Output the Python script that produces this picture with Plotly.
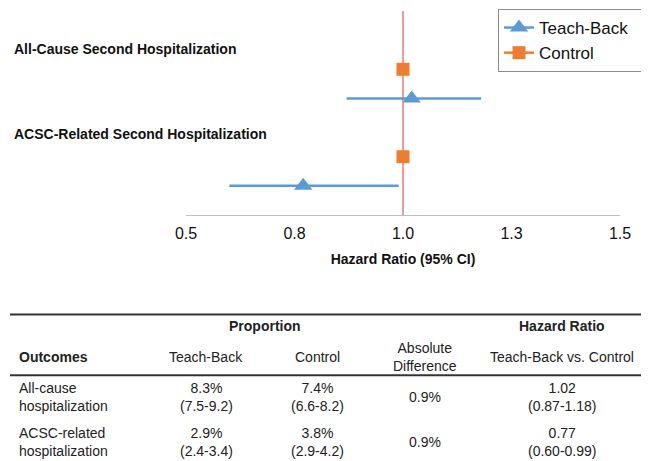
import plotly.graph_objects as go

# ---------------- data ----------------
outcome_labels = ["All-Cause Second Hospitalization", "ACSC-Related Second Hospitalization"]
teachback_hr = [1.02, 0.77]
teachback_lo = [0.87, 0.60]
teachback_hi = [1.18, 0.99]
control_hr = [1.00, 1.00]
series_names = ["Teach-Back", "Control"]

tick_vals = [0.5, 0.75, 1.0, 1.25, 1.5]
tick_text = ["0.5", "0.8", "1.0", "1.3", "1.5"]

table_outcomes = ["All-cause", "ACSC-related"]
tb_pct = ["8.3%", "2.9%"]
tb_ci = ["7.5-9.2", "2.4-3.4"]
ctl_pct = ["7.4%", "3.8%"]
ctl_ci = ["6.6-8.2", "2.9-4.2"]
abs_diff = ["0.9%", "0.9%"]
hr_val = ["1.02", "0.77"]
hr_ci = ["0.87-1.18", "0.60-0.99"]

# ---------------- layout helpers ----------------
W, H = 649, 461
L, R, T, B = 178, 612, 2, 207
FONT = "Arial, Liberation Sans, Helvetica, sans-serif"
BLUE = "#5B9BD5"
ORANGE = "#ED7D31"
PAD = "\u00a0\u00a0"


def pxx(x):
    return (x - L) / (R - L)


def pxy(y):
    return (B - y) / (B - T)


# row slots: each outcome gets a control (upper) and teach-back (lower) slot
n = len(outcome_labels)
tb_y, ctl_y = [], []
for i in range(n):
    base = 3 * (n - 1 - i) + 1
    tb_y.append(base)
    ctl_y.append(base + 1)


# interleave None so the line+marker traces draw no connecting lines
def gap(vals):
    out = []
    for k, v in enumerate(vals):
        if k:
            out.append(None)
        out.append(v)
    return out


tb_plus = [h - m for h, m in zip(teachback_hi, teachback_hr)]
tb_minus = [m - l for m, l in zip(teachback_hr, teachback_lo)]

fig = go.Figure()
fig.add_trace(go.Scatter(
    x=gap(teachback_hr), y=gap(tb_y), name=series_names[0] + PAD,
    mode="lines+markers", connectgaps=False,
    line=dict(color=BLUE, width=2.5),
    marker=dict(symbol="triangle-up", size=16, color=BLUE),
    error_x=dict(type="data", symmetric=False,
                 array=gap(tb_plus), arrayminus=gap(tb_minus),
                 color=BLUE, thickness=2.5, width=0),
))
fig.add_trace(go.Scatter(
    x=gap(control_hr), y=gap(ctl_y), name=series_names[1] + PAD,
    mode="lines+markers", connectgaps=False,
    line=dict(color=ORANGE, width=2.5),
    marker=dict(symbol="square", size=13, color=ORANGE),
))

# reference line at HR = 1
fig.add_shape(type="line", xref="x", yref="paper", x0=1.0, x1=1.0, y0=0, y1=1,
              line=dict(color="#E0392B", width=1), layer="below")

annotations = []
# outcome labels in the plot
label_px = [40, 126]
for lab, ypx in zip(outcome_labels, label_px):
    annotations.append(dict(text="<b>%s</b>" % lab, xref="paper", yref="paper",
                            x=pxx(4), y=pxy(ypx), xanchor="left", yanchor="middle",
                            showarrow=False, font=dict(size=14, color="#111", family=FONT)))

# ---------------- table ----------------
TXT = dict(size=14, color="#222", family=FONT)


def cell(text, x, y, anchor="center", bold=False):
    if bold:
        text = "<b>%s</b>" % text
    annotations.append(dict(text=text, xref="paper", yref="paper", x=pxx(x), y=pxy(y),
                            xanchor=anchor, yanchor="middle", showarrow=False,
                            align="left" if anchor == "left" else "center", font=TXT))


col_tb, col_ctl, col_abs, col_hr = 198, 309, 417, 554
cell("Proportion", 257, 319, bold=True)
cell("Hazard Ratio", col_hr, 319, bold=True)
cell("Outcomes", 9, 350, anchor="left", bold=True)
cell("Teach-Back", col_tb, 350)
cell("Control", col_ctl, 350)
cell("Absolute<br>Difference", col_abs, 350)
cell("Teach-Back vs. Control", col_hr, 350)

row_y = [390, 435]
for i in range(n):
    yy = row_y[i]
    cell(table_outcomes[i] + "<br>hospitalization", 9, yy, anchor="left")
    cell("%s<br>(%s)" % (tb_pct[i], tb_ci[i]), col_tb, yy)
    cell("%s<br>(%s)" % (ctl_pct[i], ctl_ci[i]), col_ctl, yy)
    cell(abs_diff[i], col_abs, yy)
    cell("%s<br>(%s)" % (hr_val[i], hr_ci[i]), col_hr, yy)

for ypx in [307, 368, 459]:
    fig.add_shape(type="line", xref="paper", yref="paper", x0=pxx(2), x1=pxx(649),
                  y0=pxy(ypx), y1=pxy(ypx), line=dict(color="#333", width=2))

fig.update_layout(
    width=W, height=H,
    margin=dict(l=L, r=W - R, t=T, b=H - B, pad=0),
    paper_bgcolor="white", plot_bgcolor="white",
    font=dict(family=FONT, color="#111"),
    showlegend=True,
    legend=dict(x=pxx(490), y=pxy(1), xanchor="left", yanchor="top",
                bordercolor="#8C8C8C", borderwidth=1, bgcolor="white",
                font=dict(size=17, color="#111", family=FONT),
                itemwidth=30, tracegroupgap=0),
    annotations=annotations,
)
fig.update_xaxes(range=[0.5, 1.5], tickvals=tick_vals, ticktext=tick_text,
                 showgrid=False, zeroline=False, showline=True, linecolor="#BFBFBF",
                 linewidth=1, ticks="", ticklabelstandoff=4,
                 tickfont=dict(size=16, color="#111", family=FONT),
                 title=dict(text="<b>Hazard Ratio (95% CI)</b>", standoff=12,
                            font=dict(size=14, color="#111", family=FONT)))
fig.update_yaxes(range=[0, 7], visible=False, showgrid=False, zeroline=False)

fig.write_html("out.html")
